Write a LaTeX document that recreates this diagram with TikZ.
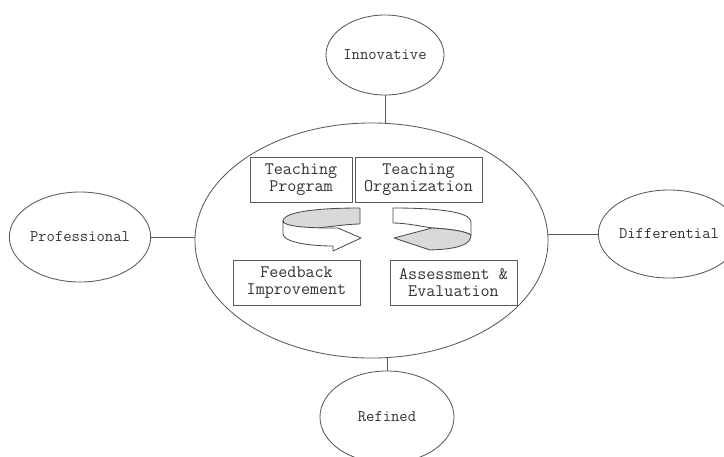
\documentclass[tikz,border=0pt]{standalone}
\usetikzlibrary{shapes.geometric}

\begin{document}
\begin{tikzpicture}[x=0.025cm, y=-0.025cm, line width=0.6pt,
  topic/.style={ellipse, draw=black!65, inner sep=0pt,
    font=\fontsize{11.5}{13}\selectfont\ttfamily, text=black!80},
  box/.style={draw=black!65, inner sep=0pt, minimum height=1.125cm, align=center,
    font=\fontsize{12.5}{11.8}\selectfont\ttfamily, text=black!80},
  band/.style={draw=black!70, line join=round}]
  \useasboundingbox (0,0) rectangle (724,456);
  % Centre and the four qualities
  \node[topic, minimum width=8.825cm, minimum height=5.875cm] (core) at (371.5,240.5) {};
  \node[topic, minimum width=2.95cm, minimum height=2cm] (inn) at (385,55) {Innovative};
  \node[topic, minimum width=3.35cm, minimum height=2.3cm] (ref) at (387,417) {Refined};
  \node[topic, minimum width=3.375cm, minimum height=2.25cm] (pro) at (80,237) {Professional};
  \node[topic, minimum width=3.3cm, minimum height=2.2cm] (dif) at (669,234) {Differential};
  \draw[black!65] (inn.south) -- (inn.south |- core.north);
  \draw[black!65] (ref.north |- core.south) -- (ref.north);
  \draw[black!65] (pro.east) -- (core.west |- pro.east);
  \draw[black!65] (core.east |- dif.west) -- (dif.west);
  % Teaching cycle
  \node[box, minimum width=2.55cm] (prog) at (301,179.5) {Teaching\\Program};
  \node[box, minimum width=3.175cm] (org) at (418.5,179.5) {Teaching\\Organization};
  \node[box, minimum width=3.175cm] (feed) at (296.5,282.5) {Feedback\\Improvement};
  \node[box, minimum width=3.175cm] (assess) at (453.5,282.5) {Assessment \&\\Evaluation};
  % Left ribbon: grey back, white front with head to the right
  \filldraw[band, fill=black!15] (360,208) .. controls (305,208) and (283,214) .. (283,221)
    .. controls (283,226) and (300,228) .. (318,228)
    .. controls (335,226) and (350,224) .. (360,224) -- cycle;
  \filldraw[band, fill=white] (283,221) .. controls (283,226) and (305,228) .. (332,228)
    -- (338,228) -- (361,238) -- (333,251) -- (333,246)
    .. controls (305,246) and (283,241) .. (283,234) -- cycle;
  % Right ribbon: white back, grey front with head to the left
  \filldraw[band, fill=white] (393,208) .. controls (450,208) and (471,214) .. (471,222)
    -- (471,235) .. controls (465,231) and (450,229) .. (432,228)
    .. controls (420,226) and (405,223) .. (393,223) -- cycle;
  \filldraw[band, fill=black!15] (394,238) -- (432,228)
    .. controls (450,229) and (465,231) .. (471,235)
    .. controls (471,244) and (460,249) .. (430,250) -- cycle;
\end{tikzpicture}
\end{document}
